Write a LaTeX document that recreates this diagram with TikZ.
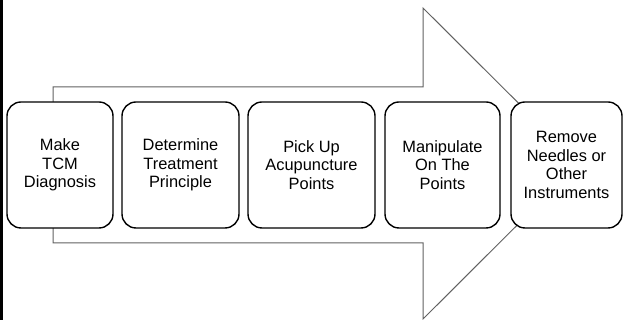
\documentclass[tikz,border=0pt]{standalone}
\usepackage{fontspec}
\setmainfont{Liberation Sans}
\usetikzlibrary{positioning}
\newcommand{\boxfont}{\fontsize{16.4}{18.5}\selectfont}

\begin{document}
\begin{tikzpicture}[x=1pt,y=1pt,
  stepbox/.style={draw=black,line width=1.4pt,fill=white,rounded corners=14pt,
    minimum height=126pt,align=center,inner sep=0pt,font=\boxfont},
  bigarrow/.style={draw=black!62,line width=1pt}]
  \useasboundingbox (0,0) rectangle (624,320);
  \draw[line width=3pt] (1.5,0) -- (1.5,320);

  \draw[bigarrow] (53,233) -- (423,233) -- (423,312) -- (579,156.5)
    -- (423,1) -- (423,77) -- (53,77) -- cycle;

  \node[stepbox,minimum width=106pt] (diag) at (60,155) {Make\\TCM\\Diagnosis};
  \node[stepbox,minimum width=117pt] (princ) at (180.5,155) {Determine\\Treatment\\Principle};
  \node[stepbox,minimum width=127pt] (pick) at (311.5,155) {Pick Up\\Acupuncture\\Points};
  \node[stepbox,minimum width=115pt] (manip) at (442.5,155) {Manipulate\\On The\\Points};
  \node[stepbox,minimum width=111pt] (remove) at (566.5,155) {Remove\\Needles or\\Other\\Instruments};
\end{tikzpicture}
\end{document}
